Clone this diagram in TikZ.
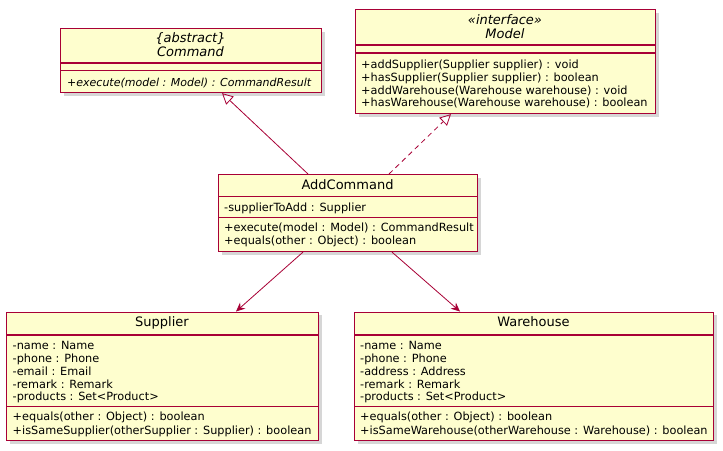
\documentclass[tikz,border=0pt]{standalone}
\usepackage{fontspec}
\setmainfont{DejaVu Sans}
\usetikzlibrary{arrows.meta,shadows}
\definecolor{umlfill}{HTML}{FEFECE}
\definecolor{umlline}{HTML}{A80036}
\tikzset{
  classbox/.style={draw=umlline, line width=1.1pt, fill=umlfill, rectangle, inner sep=0pt,
    anchor=north west,
    drop shadow={shadow xshift=3pt, shadow yshift=-3pt, fill=black!40, opacity=0.4}},
  sepline/.style={draw=umlline, line width=1.1pt},
  member/.style={anchor=base west, inner sep=0pt, font=\fontsize{11.3}{13}\selectfont},
  ctitle/.style={anchor=base, inner sep=0pt, font=\fontsize{13}{15}\selectfont},
  gen/.style={draw=umlline, line width=0.8pt, -{Triangle[open, length=11pt, width=11pt, line width=0.8pt]}},
  real/.style={gen, dash pattern=on 5pt off 4pt},
  assoc/.style={draw=umlline, line width=0.8pt, -{Stealth[length=9pt, width=8pt, inset=3pt]}}
}
\begin{document}
\begin{tikzpicture}[x=1pt, y=-1pt]
\useasboundingbox (0,0) rectangle (723,450);
\fill[white] (0,0) rectangle (723,450);

% Command
\node[classbox, minimum width=261pt, minimum height=64pt] (cmd) at (60,28) {};
\draw[sepline] (60,63) -- (321,63);
\draw[sepline] (60,70.5) -- (321,70.5);
\node[ctitle] (cmdst) at (190.5,42.5) {\itshape\{abstract\}};
\node[ctitle] (cmdnm) at (190.5,56.5) {\itshape Command};
\node[member, font=\fontsize{11}{13}\selectfont] (cmdm1) at (67,86.5) {\itshape +execute(model : Model) : CommandResult};

% Model
\node[classbox, minimum width=300pt, minimum height=104pt] (mdl) at (355,9) {};
\draw[sepline] (355,45) -- (655,45);
\draw[sepline] (355,53) -- (655,53);
\node[ctitle] (mdlst) at (505,24) {\itshape «interface»};
\node[ctitle] (mdlnm) at (505,38) {\itshape Model};
\node[member] (mdlm1) at (361,68.3) {+addSupplier(Supplier supplier) : void};
\node[member] (mdlm2) at (361,81) {+hasSupplier(Supplier supplier) : boolean};
\node[member] (mdlm3) at (361,94) {+addWarehouse(Warehouse warehouse) : void};
\node[member] (mdlm4) at (361,106.7) {+hasWarehouse(Warehouse warehouse) : boolean};

% AddCommand
\node[classbox, minimum width=259pt, minimum height=77pt] (add) at (218,174) {};
\draw[sepline] (218,196.7) -- (477,196.7);
\draw[sepline] (218,217.3) -- (477,217.3);
\node[ctitle] (addnm) at (347.5,189.5) {AddCommand};
\node[member] (addf1) at (224,211.3) {-supplierToAdd : Supplier};
\node[member] (addm1) at (224,231.3) {+execute(model : Model) : CommandResult};
\node[member] (addm2) at (224,244.7) {+equals(other : Object) : boolean};

% Supplier
\node[classbox, minimum width=312pt, minimum height=128.5pt] (sup) at (6,311.5) {};
\draw[sepline] (6,335) -- (318,335);
\draw[sepline] (6,406.7) -- (318,406.7);
\node[ctitle] (supnm) at (162,326.5) {Supplier};
\node[member] (supf1) at (12.5,349) {-name : Name};
\node[member] (supf2) at (12.5,362) {-phone : Phone};
\node[member] (supf3) at (12.5,375) {-email : Email};
\node[member] (supf4) at (12.5,388) {-remark : Remark};
\node[member] (supf5) at (12.5,400.5) {-products : Set<Product>};
\node[member] (supm1) at (12.5,420.7) {+equals(other : Object) : boolean};
\node[member] (supm2) at (12.5,434) {+isSameSupplier(otherSupplier : Supplier) : boolean};

% Warehouse
\node[classbox, minimum width=359pt, minimum height=128.5pt] (wh) at (354,311.5) {};
\draw[sepline] (354,335) -- (713,335);
\draw[sepline] (354,406.7) -- (713,406.7);
\node[ctitle] (whnm) at (533.5,326.5) {Warehouse};
\node[member] (whf1) at (360,349) {-name : Name};
\node[member] (whf2) at (360,362) {-phone : Phone};
\node[member] (whf3) at (360,375) {-address : Address};
\node[member] (whf4) at (360,388) {-remark : Remark};
\node[member] (whf5) at (360,400.5) {-products : Set<Product>};
\node[member] (whm1) at (360,420.7) {+equals(other : Object) : boolean};
\node[member] (whm2) at (360,434) {+isSameWarehouse(otherWarehouse : Warehouse) : boolean};

% connectors
\draw[gen] ([xshift=90pt]add.north west) -- ([xshift=162pt]cmd.south west);
\draw[real] ([xshift=171pt]add.north west) -- ([xshift=96pt]mdl.south west);
\draw[assoc] ([xshift=85pt]add.south west) -- ([xshift=230pt]sup.north west);
\draw[assoc] ([xshift=174pt]add.south west) -- ([xshift=106pt]wh.north west);
\end{tikzpicture}
\end{document}
